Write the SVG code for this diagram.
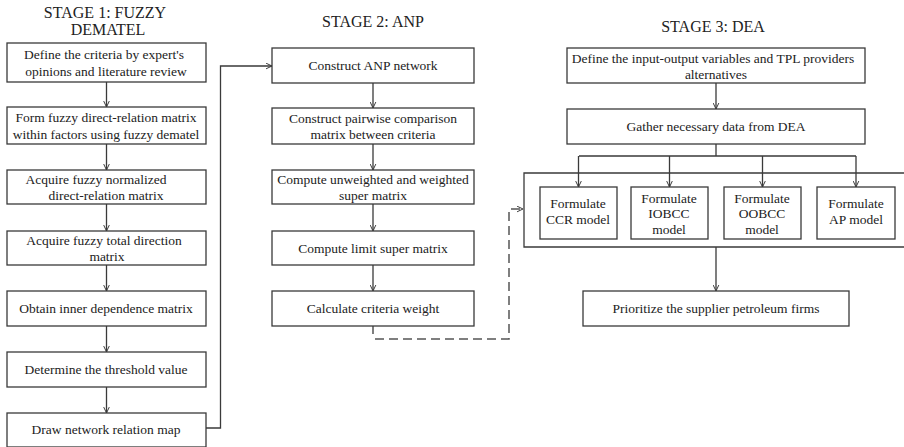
<svg xmlns="http://www.w3.org/2000/svg" width="904" height="447" viewBox="0 0 904 447">
<style>
.box{fill:#fff;stroke:#3a3a3a;stroke-width:1.3}
.t{font-family:"Liberation Serif","Times New Roman",serif;font-size:13.5px;fill:#222;text-anchor:middle}
.h{font-family:"Liberation Serif","Times New Roman",serif;font-size:16px;fill:#222;text-anchor:middle}
.c{fill:none;stroke:#3a3a3a;stroke-width:1.3}
.d{fill:none;stroke:#555;stroke-width:1.5;stroke-dasharray:9 5}
</style>
<defs>
<marker id="ah" viewBox="0 0 10 10" refX="9.5" refY="5" markerWidth="7" markerHeight="7" markerUnits="userSpaceOnUse" orient="auto">
<path d="M1,1 L9.5,5 L1,9" fill="none" stroke="#3a3a3a" stroke-width="1.4"/>
</marker>
</defs>
<rect width="904" height="447" fill="#fff"/>
<g id="headings">
<text class="h" x="105" y="18">STAGE 1: FUZZY</text>
<text class="h" x="108" y="35">DEMATEL</text>
<text class="h" x="373" y="27">STAGE 2: ANP</text>
<text class="h" x="713" y="32">STAGE 3: DEA</text>
</g>
<g id="s1n1"><rect class="box" x="7" y="43" width="199" height="39"/><text class="t" x="104" y="59">Define the criteria by expert's</text><text class="t" x="106" y="76">opinions and literature review</text></g>
<g id="s1n2"><rect class="box" x="7" y="107" width="199" height="37"/><text class="t" x="106" y="122">Form fuzzy direct-relation matrix</text><text class="t" x="106" y="139">within factors using fuzzy dematel</text></g>
<g id="s1n3"><rect class="box" x="7" y="170" width="199" height="34"/><text class="t" x="96" y="184">Acquire fuzzy normalized</text><text class="t" x="106" y="200">direct-relation matrix</text></g>
<g id="s1n4"><rect class="box" x="7" y="231" width="199" height="34"/><text class="t" x="104" y="245">Acquire fuzzy total direction</text><text class="t" x="107" y="261">matrix</text></g>
<g id="s1n5"><rect class="box" x="7" y="291" width="199" height="35"/><text class="t" x="106" y="313">Obtain inner dependence matrix</text></g>
<g id="s1n6"><rect class="box" x="7" y="352" width="199" height="35"/><text class="t" x="106" y="374">Determine the threshold value</text></g>
<g id="s1n7"><rect class="box" x="7" y="413" width="199" height="34"/><text class="t" x="106" y="434">Draw network relation map</text></g>
<g id="s2n1"><rect class="box" x="272" y="48" width="202" height="35"/><text class="t" x="373" y="70">Construct ANP network</text></g>
<g id="s2n2"><rect class="box" x="272" y="108" width="202" height="36"/><text class="t" x="373" y="123">Construct pairwise comparison</text><text class="t" x="373" y="139">matrix between criteria</text></g>
<g id="s2n3"><rect class="box" x="272" y="170" width="202" height="34"/><text class="t" x="373" y="184">Compute unweighted and weighted</text><text class="t" x="373" y="200">super matrix</text></g>
<g id="s2n4"><rect class="box" x="272" y="231" width="202" height="34"/><text class="t" x="373" y="253">Compute limit super matrix</text></g>
<g id="s2n5"><rect class="box" x="272" y="291" width="202" height="35"/><text class="t" x="373" y="313">Calculate criteria weight</text></g>
<g id="s3n1"><rect class="box" x="567" y="48" width="298" height="35"/><text class="t" x="713" y="63">Define the input-output variables and TPL providers</text><text class="t" x="716" y="79">alternatives</text></g>
<g id="s3n2"><rect class="box" x="567" y="109" width="298" height="35"/><text class="t" x="716" y="131">Gather necessary data from DEA</text></g>
<g id="s3group"><path class="c" d="M910,173 H524 V247 H910"/></g>
<g id="s3m1"><rect class="box" x="540" y="187" width="77" height="52"/><text class="t" x="578" y="208">Formulate</text><text class="t" x="578" y="224">CCR model</text></g>
<g id="s3m2"><rect class="box" x="631" y="187" width="77" height="52"/><text class="t" x="669" y="203">Formulate</text><text class="t" x="669" y="218">IOBCC</text><text class="t" x="669" y="234">model</text></g>
<g id="s3m3"><rect class="box" x="724" y="187" width="77" height="52"/><text class="t" x="762" y="203">Formulate</text><text class="t" x="762" y="218">OOBCC</text><text class="t" x="762" y="234">model</text></g>
<g id="s3m4"><rect class="box" x="817" y="187" width="78" height="52"/><text class="t" x="856" y="208">Formulate</text><text class="t" x="856" y="224">AP model</text></g>
<g id="s3n3"><rect class="box" x="583" y="291" width="266" height="35"/><text class="t" x="716" y="313">Prioritize the supplier petroleum firms</text></g>
<g id="connectors">
<path class="c" d="M106.5,82 V107" marker-end="url(#ah)"/>
<path class="c" d="M106.5,144 V170" marker-end="url(#ah)"/>
<path class="c" d="M106.5,204 V231" marker-end="url(#ah)"/>
<path class="c" d="M106.5,265 V291" marker-end="url(#ah)"/>
<path class="c" d="M106.5,326 V352" marker-end="url(#ah)"/>
<path class="c" d="M106.5,387 V413" marker-end="url(#ah)"/>
<path class="c" d="M206,428 H220.5 V66 H272" marker-end="url(#ah)"/>
<path class="c" d="M373,83 V108" marker-end="url(#ah)"/>
<path class="c" d="M373,144 V170" marker-end="url(#ah)"/>
<path class="c" d="M373,204 V231" marker-end="url(#ah)"/>
<path class="c" d="M373,265 V291" marker-end="url(#ah)"/>
<path class="c" d="M373,326 V334"/>
<path class="d" d="M375,339 H509 V209 H523" marker-end="url(#ah)"/>
<path class="c" d="M716,83 V109" marker-end="url(#ah)"/>
<path class="c" d="M716,144 V156 M579,156 H856"/>
<path class="c" d="M578.5,156 V187" marker-end="url(#ah)"/>
<path class="c" d="M669.5,156 V187" marker-end="url(#ah)"/>
<path class="c" d="M762.5,156 V187" marker-end="url(#ah)"/>
<path class="c" d="M856,156 V187" marker-end="url(#ah)"/>
<path class="c" d="M716,247 V291" marker-end="url(#ah)"/>
</g>
</svg>
